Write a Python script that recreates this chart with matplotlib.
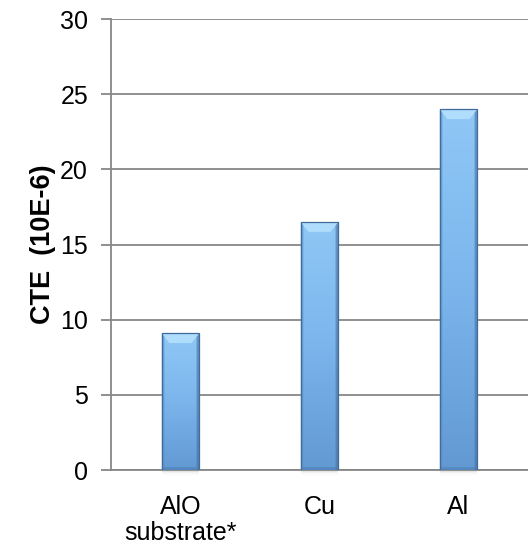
import numpy as np
import matplotlib
matplotlib.use("Agg")
import matplotlib.pyplot as plt
from matplotlib.patches import Polygon
from matplotlib.colors import LinearSegmentedColormap

categories = ["AlO\nsubstrate*", "Cu", "Al"]
cte_values = [9.1, 16.5, 24.0]
y_ticks = [0, 5, 10, 15, 20, 25, 30]

plt.rcParams["font.family"] = ["Liberation Sans", "DejaVu Sans"]

fig = plt.figure(figsize=(5.28, 5.46), dpi=100)
ax = fig.add_axes([0.2102, 0.139, 0.7898, 0.826])

x = np.arange(len(categories))
bar_w = 0.27
grid_c = "#878787"

ax.set_xlim(-0.5, len(categories) - 0.5)
ax.set_ylim(0, 30)
ax.set_yticks(y_ticks)
ax.yaxis.grid(True, color=grid_c, lw=1.3)
ax.set_axisbelow(True)

bars = ax.bar(x, cte_values, width=bar_w, facecolor="none",
              edgecolor="#3f6c9a", lw=0.9, zorder=4)

body_cmap = LinearSegmentedColormap.from_list(
    "body", ["#6299d3", "#7bb5ec", "#8fc8f6"])
grad = np.linspace(0, 1, 256).reshape(-1, 1)

for rect in bars:
    x0, y0 = rect.get_x(), rect.get_y()
    w, h = rect.get_width(), rect.get_height()
    x1, y1 = x0 + w, y0 + h
    # drop shadow below the bar
    for k, a in enumerate([0.10, 0.07, 0.04]):
        ax.add_patch(plt.Rectangle((x0 + 0.005, y0 - 0.12 - 0.1 * k),
                                   w - 0.01, 0.12 + 0.1 * k,
                                   color="#808080", alpha=a, lw=0,
                                   zorder=2, clip_on=False))
    im = ax.imshow(grad, cmap=body_cmap, origin="lower", aspect="auto",
                   extent=(x0, x1, y0, y1), zorder=3)
    im.set_clip_path(rect)
    bx, by = 0.055, 0.65
    # bevel: lit top, shaded sides and bottom
    ax.add_patch(Polygon([(x0, y1), (x1, y1), (x1 - bx, y1 - by),
                          (x0 + bx, y1 - by)], closed=True,
                         facecolor="#b4e0fd", lw=0, alpha=0.9, zorder=3.5))
    ax.add_patch(Polygon([(x0, y1), (x0 + bx * 0.35, y1 - by * 0.35),
                          (x0 + bx * 0.35, y0), (x0, y0)], closed=True,
                         facecolor="#5c8fc4", lw=0, alpha=0.6, zorder=3.5))
    ax.add_patch(Polygon([(x1, y1), (x1 - bx * 0.35, y1 - by * 0.35),
                          (x1 - bx * 0.35, y0), (x1, y0)], closed=True,
                         facecolor="#46719f", lw=0, alpha=0.6, zorder=3.5))
    ax.add_patch(Polygon([(x0, y0), (x1, y0), (x1 - bx * 0.35, y0 + 0.2),
                          (x0 + bx * 0.35, y0 + 0.2)], closed=True,
                         facecolor="#4a7cb0", lw=0, alpha=0.5, zorder=3.5))

ax.set_xticks(x)
ax.set_xticklabels(categories, fontsize=18, linespacing=1.1)
ax.tick_params(axis="x", length=0, pad=18)
ax.tick_params(axis="y", length=7, width=1.3, color=grid_c,
               labelsize=18, pad=9.5)

for side in ("top", "right"):
    ax.spines[side].set_visible(False)
for side in ("left", "bottom"):
    ax.spines[side].set_color(grid_c)
    ax.spines[side].set_linewidth(1.3)

ax.set_ylabel("CTE  (10E-6)", fontsize=19.5, fontweight="bold", labelpad=3)

fig.savefig("out.png", dpi=100)
